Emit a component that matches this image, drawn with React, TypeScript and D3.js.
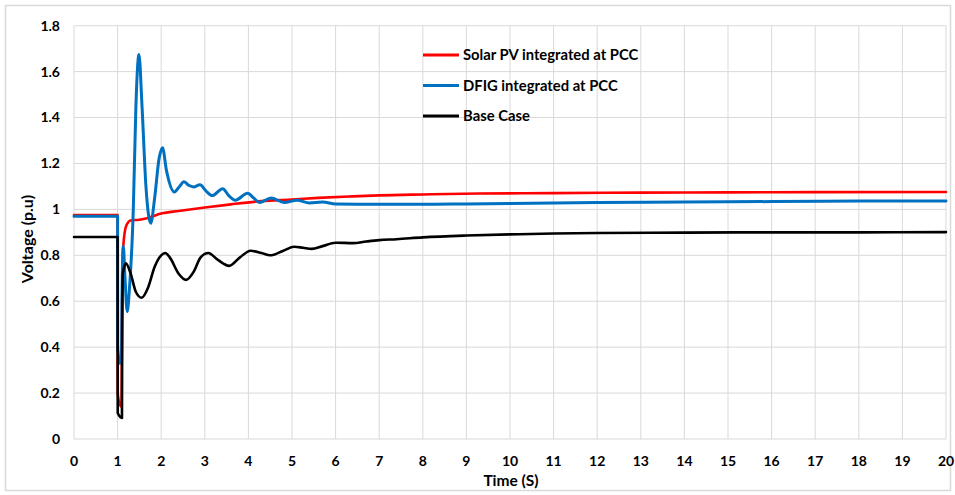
import React from "react";
import * as d3 from "d3";

// [time (s), voltage (p.u)]
const solarPV: [number, number][] = [
  [0, 0.975], [1.0, 0.975], [1.003, 0.2], [1.05, 0.15], [1.09, 0.14], [1.1, 0.5], [1.13, 0.84],
  [1.2, 0.93], [1.3, 0.952], [1.5, 0.955], [1.7, 0.963], [2.0, 0.982], [2.4, 0.993], [3.0, 1.008],
  [3.6, 1.022], [4.3, 1.036], [5.0, 1.043], [5.6, 1.05], [6.3, 1.056], [7.0, 1.061], [8.0, 1.065],
  [9.3, 1.069], [11, 1.071], [13, 1.073], [15, 1.074], [17, 1.075], [20, 1.076],
];

const dfig: [number, number][] = [
  [0, 0.97], [1.0, 0.97], [1.003, 0.4], [1.05, 0.33], [1.09, 0.34], [1.1, 0.6], [1.13, 0.84],
  [1.17, 0.7], [1.22, 0.555], [1.27, 0.65], [1.36, 1.0], [1.42, 1.45], [1.49, 1.675], [1.56, 1.45],
  [1.65, 1.1], [1.76, 0.94], [1.85, 1.05], [1.95, 1.22], [2.03, 1.268], [2.12, 1.17], [2.3, 1.076],
  [2.42, 1.1], [2.52, 1.12], [2.63, 1.105], [2.74, 1.098], [2.89, 1.107], [3.03, 1.08], [3.17, 1.06],
  [3.41, 1.09], [3.55, 1.06], [3.7, 1.04], [3.98, 1.07], [4.12, 1.05], [4.25, 1.03], [4.52, 1.05],
  [4.82, 1.03], [5.12, 1.04], [5.4, 1.028], [5.7, 1.032], [6.0, 1.024], [7, 1.022], [8, 1.022],
  [9, 1.024], [10, 1.026], [12, 1.03], [14, 1.032], [16, 1.034], [18, 1.036], [20, 1.037],
];

const baseCase: [number, number][] = [
  [0, 0.88], [1.0, 0.88], [1.003, 0.113], [1.1, 0.092], [1.105, 0.45], [1.12, 0.72], [1.19, 0.765],
  [1.3, 0.72], [1.42, 0.64], [1.55, 0.615], [1.7, 0.66], [1.85, 0.75], [2.0, 0.8], [2.09, 0.81],
  [2.2, 0.79], [2.4, 0.72], [2.57, 0.693], [2.75, 0.73], [2.9, 0.79], [3.08, 0.81], [3.3, 0.78],
  [3.56, 0.754], [3.8, 0.79], [4.05, 0.82], [4.3, 0.81], [4.5, 0.8], [4.8, 0.82], [5.05, 0.837],
  [5.25, 0.833], [5.45, 0.828], [5.7, 0.84], [6.0, 0.855], [6.4, 0.853], [6.7, 0.86], [7.0, 0.866],
  [7.4, 0.87], [8.0, 0.878], [9.0, 0.886], [10.0, 0.891], [11.0, 0.895], [12.0, 0.897], [14, 0.899],
  [16, 0.9], [18, 0.9], [20, 0.901],
];

const xTicks = d3.range(0, 21, 1);
const yTicks = [0, 0.2, 0.4, 0.6, 0.8, 1, 1.2, 1.4, 1.6, 1.8];
const yTickLabels = ["0", "0.2", "0.4", "0.6", "0.8", "1", "1.2", "1.4", "1.6", "1.8"];

const seriesNames = ["Solar PV integrated at PCC", "DFIG integrated at PCC", "Base Case"];
const seriesColors = ["#FF0000", "#0070C0", "#000000"];
const seriesData = [solarPV, dfig, baseCase];

const W = 955;
const H = 495;
const FONT = "Lato, 'Open Sans', sans-serif";

export default function App() {
  const x = d3.scaleLinear().domain([0, 20]).range([74, 946]);
  const y = d3.scaleLinear().domain([0, 1.8]).range([439, 25.7]);
  const line = d3
    .line<[number, number]>()
    .x((d) => x(d[0]))
    .y((d) => y(d[1]))
    .curve(d3.curveMonotoneX);

  return (
    <svg
      width={W}
      height={H}
      style={{ position: "absolute", left: 0, top: 0, background: "#fff" }}
      fontFamily={FONT}
    >
      <rect x={0} y={0} width={W} height={H} fill="#fff" />
      <rect x={5.5} y={5.5} width={945} height={485} fill="none" stroke="#D9D9D9" strokeWidth={1.5} />
      {/* grid */}
      {xTicks.map((t) => (
        <line key={"gx" + t} x1={x(t)} x2={x(t)} y1={y(0)} y2={y(1.8)} stroke="#D9D9D9" strokeWidth={1} />
      ))}
      {yTicks.map((t) => (
        <line key={"gy" + t} x1={x(0)} x2={x(20)} y1={y(t)} y2={y(t)} stroke="#D9D9D9" strokeWidth={1} />
      ))}
      {/* tick labels */}
      {yTicks.map((t, i) => (
        <text
          key={"ty" + t}
          x={60}
          y={y(t)}
          dy="0.35em"
          textAnchor="end"
          fontSize={14}
          fontWeight="bold"
          fill="#000"
        >
          {yTickLabels[i]}
        </text>
      ))}
      {xTicks.map((t) => (
        <text
          key={"tx" + t}
          x={x(t)}
          y={461}
          dy="0.35em"
          textAnchor="middle"
          fontSize={14}
          fontWeight="bold"
          fill="#000"
        >
          {t}
        </text>
      ))}
      {/* axis titles */}
      <text x={511} y={481} dy="0.35em" textAnchor="middle" fontSize={15.5} fontWeight="bold" fill="#000">
        Time (S)
      </text>
      <text
        transform={`translate(27,${239}) rotate(-90)`}
        textAnchor="middle"
        dy="0.35em"
        fontSize={16}
        fontWeight="bold"
        fill="#000"
      >
        Voltage (p.u)
      </text>
      {/* series */}
      {seriesData.map((d, i) => (
        <path
          key={"s" + i}
          d={line(d) || ""}
          fill="none"
          stroke={seriesColors[i]}
          strokeWidth={i === 1 ? 3 : 2.6}
          strokeLinejoin="round"
          strokeLinecap="round"
        />
      ))}
      {/* legend */}
      {seriesNames.map((n, i) => (
        <g key={"l" + i} transform={`translate(423,${55 + i * 30.5})`}>
          <line x1={0} x2={36} y1={0} y2={0} stroke={seriesColors[i]} strokeWidth={3} />
          <text x={40} y={0} dy="0.35em" fontSize={14.8} fontWeight="bold" fill="#000">
            {n}
          </text>
        </g>
      ))}
    </svg>
  );
}
